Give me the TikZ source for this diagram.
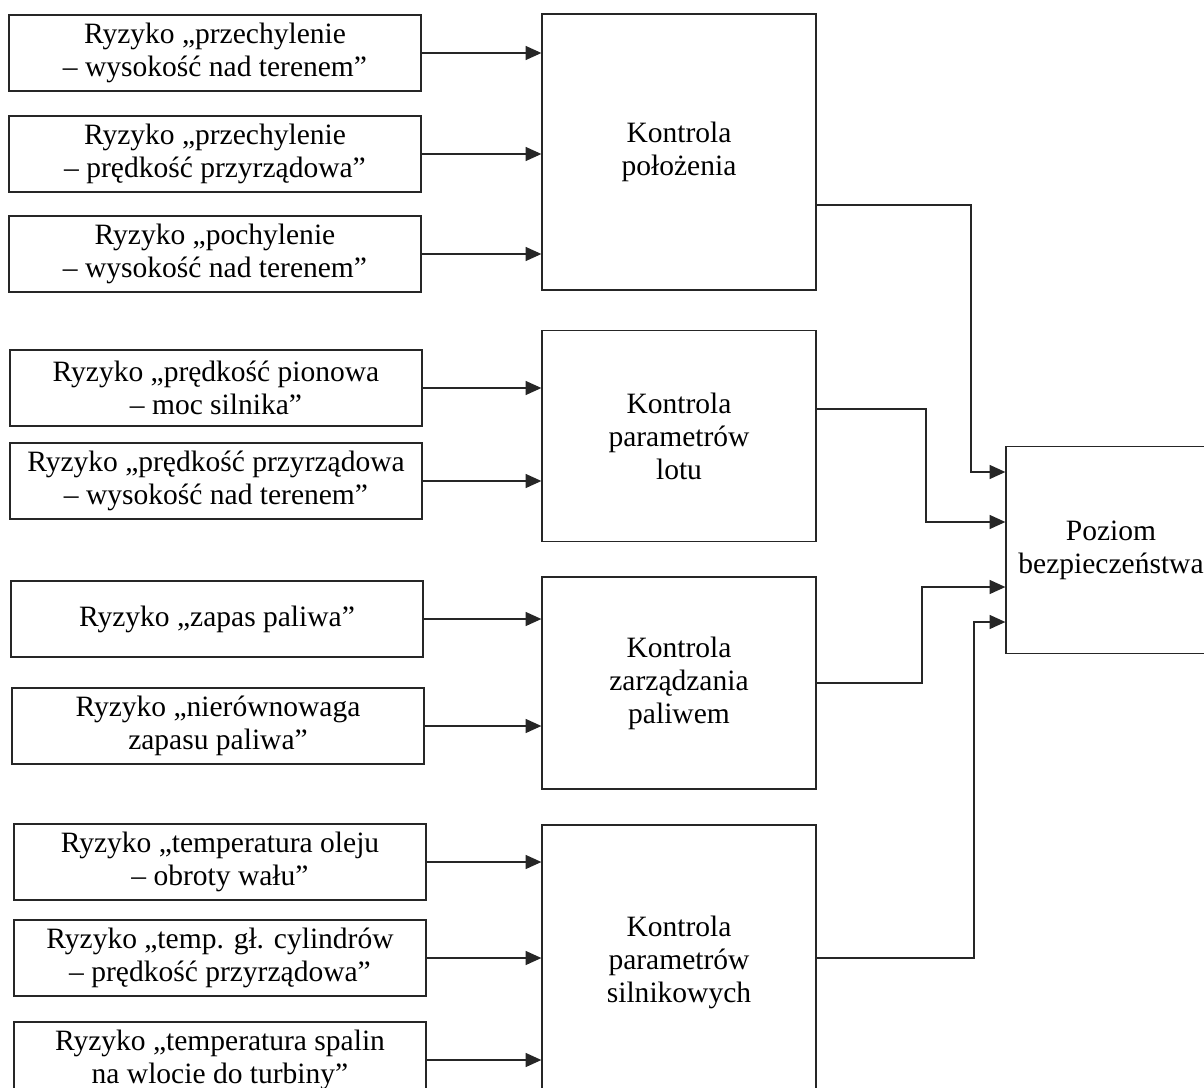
\documentclass[tikz,border=0pt]{standalone}
\usepackage{fontspec}
\setmainfont{Liberation Serif}
\usetikzlibrary{arrows.meta}

\begin{document}
\begin{tikzpicture}[
  x=0.02cm, y=-0.02cm,
  every node/.style={draw=black!85, line width=0.75pt, align=center, inner sep=2pt,
    font=\fontsize{16.8}{18.8}\selectfont},
  strzalka/.style={draw=black!85, line width=0.75pt, -{Triangle[length=9pt, width=8pt]}}
]
\tikzset{
  ryzyko/.style={minimum width=8.24cm, minimum height=1.52cm},
  kontrola/.style={minimum width=5.48cm},
  poziom/.style={minimum width=4.2cm, minimum height=4.14cm}
}
\useasboundingbox (0,0) rectangle (1204,1088);

% ryzyka
\node[ryzyko] (r1) at (215,53) {Ryzyko „przechylenie\\– wysokość nad terenem”};
\node[ryzyko] (r2) at (215,154) {Ryzyko „przechylenie\\– prędkość przyrządowa”};
\node[ryzyko] (r3) at (215,254) {Ryzyko „pochylenie\\– wysokość nad terenem”};
\node[ryzyko] (r4) at (216,388) {Ryzyko „prędkość pionowa\\– moc silnika”};
\node[ryzyko] (r5) at (216,481) {Ryzyko „prędkość przyrządowa\\– wysokość nad terenem”};
\node[ryzyko] (r6) at (217,619) {Ryzyko „zapas paliwa”};
\node[ryzyko] (r7) at (218,726) {Ryzyko „nierównowaga\\zapasu paliwa”};
\node[ryzyko] (r8) at (220,862) {Ryzyko „temperatura oleju\\– obroty wału”};
\node[ryzyko] (r9) at (220,958) {Ryzyko „temp. gł. cylindrów\\– prędkość przyrządowa”};
\node[ryzyko] (r10) at (220,1060) {Ryzyko „temperatura spalin\\na wlocie do turbiny”};

% kontrole
\node[kontrola, minimum height=5.52cm] (k1) at (679,152) {Kontrola\\położenia};
\node[kontrola, minimum height=4.22cm] (k2) at (679,436) {Kontrola\\parametrów\\lotu};
\node[kontrola, minimum height=4.24cm] (k3) at (679,683) {Kontrola\\zarządzania\\paliwem};
\node[kontrola, minimum height=5.48cm] (k4) at (679,962) {Kontrola\\parametrów\\silnikowych};

\node[poziom] (p) at (1111,550) {Poziom\\bezpieczeństwa};

% wejscia
\draw[strzalka] (r1.east) -- (r1.east -| k1.west);
\draw[strzalka] (r2.east) -- (r2.east -| k1.west);
\draw[strzalka] (r3.east) -- (r3.east -| k1.west);
\draw[strzalka] (r4.east) -- (r4.east -| k2.west);
\draw[strzalka] (r5.east) -- (r5.east -| k2.west);
\draw[strzalka] (r6.east) -- (r6.east -| k3.west);
\draw[strzalka] (r7.east) -- (r7.east -| k3.west);
\draw[strzalka] (r8.east) -- (r8.east -| k4.west);
\draw[strzalka] (r9.east) -- (r9.east -| k4.west);
\draw[strzalka] (r10.east) -- (r10.east -| k4.west);

% wyjscia
\draw[strzalka] (k1.east |- 0,205) -- (971,205) |- (p.west |- 0,472);
\draw[strzalka] (k2.east |- 0,409) -- (926,409) |- (p.west |- 0,522);
\draw[strzalka] (k3.east) -- (922,683) |- (p.west |- 0,587);
\draw[strzalka] (k4.east |- 0,958) -- (974,958) |- (p.west |- 0,622);
\end{tikzpicture}
\end{document}
